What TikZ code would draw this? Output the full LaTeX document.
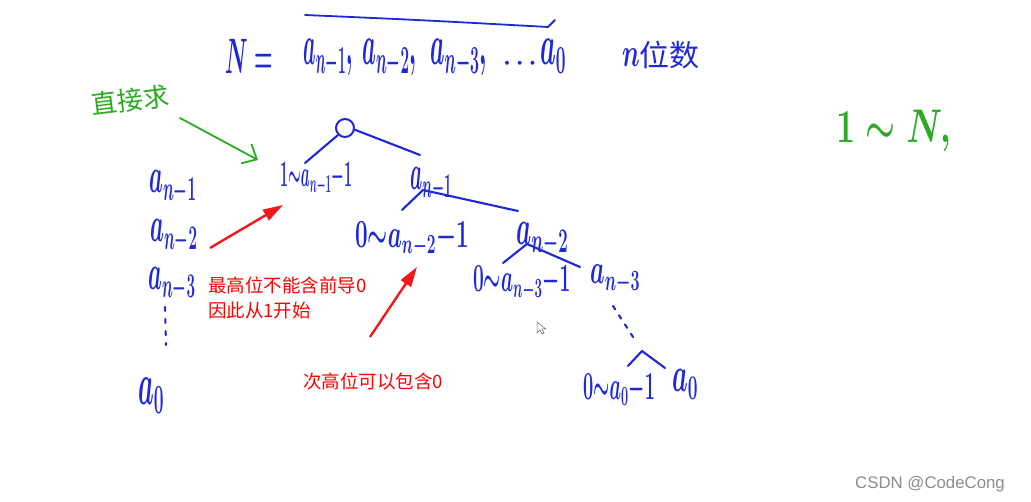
\documentclass[tikz,border=0pt]{standalone}
\usepackage{fontspec}
\usepackage{graphicx}
\newfontfamily\cjk{Noto Sans CJK SC}
\newfontfamily\wmfont{Liberation Sans}
\usetikzlibrary{arrows.meta}
\definecolor{ink}{RGB}{30,40,215}
\definecolor{grn}{RGB}{45,170,35}
\definecolor{redtxt}{RGB}{255,0,0}
\definecolor{redarr}{RGB}{240,25,25}
\newcommand\hwr[3]{\scalebox{#1}[#2]{$#3$}}
\begin{document}
\begin{tikzpicture}[x=1pt,y=-1pt,
  hw/.style={text=ink, inner sep=0pt, anchor=base west, font=\fontsize{24}{26}\selectfont\boldmath},
  gw/.style={text=grn, inner sep=0pt, font=\fontsize{24}{26}\selectfont\boldmath},
  stroke/.style={draw=ink, line width=2.1pt, line cap=round, line join=round},
  redlabel/.style={text=redtxt, font=\cjk\fontsize{18.5}{22}\selectfont, anchor=west, inner sep=0pt},
  redarrow/.style={draw=redarr, line width=2.4pt, -{Triangle[length=20pt,width=12pt]}},
  grnarrow/.style={draw=grn, line width=1.8pt, line cap=round, -{Straight Barb[length=12pt,width=22pt]}},
  wm/.style={text=black!45, font=\wmfont\fontsize{16.8}{18}\selectfont, anchor=base west, inner sep=0pt}
]
\useasboundingbox[fill=white] (0,0) rectangle (1031,502);

% top formula
\node[hw] (tN) at (225,74) {\hwr{0.85}{2}{N=}};
\node[hw] (t1) at (303,65) {\hwr{0.8}{2.3}{a_{n-1},}};
\node[hw] (t2) at (362,65) {\hwr{0.88}{2.3}{a_{n-2},}};
\node[hw] (t3) at (430,65) {\hwr{0.92}{2.3}{a_{n-3},}};
\node[hw] (tdots) at (503,70) {\hwr{1}{1}{\cdots}};
\node[hw] (t0) at (540,65) {\hwr{1.0}{2.3}{a_0}};
\node[hw] (tn) at (622,67) {\hwr{1}{1.6}{n}{\cjk\fontsize{30}{32}\selectfont 位数}};
\draw[stroke, line width=1.8pt] ([shift={(2pt,50pt)}]t1.base west) .. controls (420,20) .. (548,27) -- (555,20);

% green notes
\node[gw, font=\cjk\fontsize{26}{28}\selectfont, rotate=7] (g) at (130,100) {直接求};
\node[gw, anchor=base west] (gN) at (836,143) {\hwr{1.35}{1.9}{1\sim N,}};

% left column
\node[hw] (c1) at (149,193) {\hwr{0.88}{2}{a_{n-1}}};
\node[hw] (c2) at (150,242) {\hwr{0.88}{2}{a_{n-2}}};
\node[hw] (c3) at (148,290) {\hwr{0.88}{2}{a_{n-3}}};
\node[hw] (c0) at (138,405) {\hwr{1.0}{2.4}{a_0}};
\draw[stroke, dash pattern=on 4pt off 8pt] ([shift={(17pt,-17pt)}]c3.base west) -- ([shift={(28pt,60pt)}]c0.base west);

% tree
\node[circle, draw=ink, line width=2pt, minimum size=18pt, inner sep=0pt] (root) at (345,128) {};
\node[hw] (l1) at (280,187) {\hwr{0.57}{1.5}{1{\sim}a_{n-1}{-}1}};
\node[hw] (r1) at (410,190) {\hwr{0.78}{2}{a_{n-1}}};
\node[hw] (l2) at (355,248) {\hwr{0.9}{1.6}{0{\sim}a_{n-2}{-}1}};
\node[hw] (r2) at (516,245) {\hwr{0.97}{2}{a_{n-2}}};
\node[hw] (l3) at (473,292) {\hwr{0.77}{1.6}{0{\sim}a_{n-3}{-}1}};
\node[hw] (r3) at (590,284) {\hwr{0.93}{1.7}{a_{n-3}}};
\node[hw] (l4) at (583,400) {\hwr{0.73}{1.6}{0{\sim}a_0{-}1}};
\node[hw] (r4) at (672,392) {\hwr{1.0}{2}{a_0}};
\coordinate (v4) at (642,351);

\draw[stroke] (root.225) -- ([shift={(25pt,24pt)}]l1.base west);
\draw[stroke] (root.-10) -- ([shift={(10pt,35pt)}]r1.base west);
\draw[stroke] ([shift={(47pt,38pt)}]l2.base west) -- ([shift={(13pt,0pt)}]r1.base west) -- ([shift={(2pt,34pt)}]r2.base west);
\draw[stroke] ([shift={(30pt,29pt)}]l3.base west) -- ([shift={(11pt,1pt)}]r2.base west) -- ([shift={(-10pt,17pt)}]r3.base west);
\draw[stroke, dash pattern=on 4pt off 7pt] ([shift={(23pt,-22pt)}]r3.base west) -- ([shift={(-7pt,11pt)}]v4);
\draw[stroke] ([shift={(45pt,34pt)}]l4.base west) -- (v4) -- ([shift={(-7pt,24pt)}]r4.base west);

% red notes
\node[redlabel] (n1) at (208,285) {最高位不能含前导0};
\node[redlabel] (n2) at (208,310) {因此从1开始};
\node[redlabel] (n3) at (303,381) {次高位可以包含0};
\draw[redarrow] ([shift={(2pt,37pt)}]n1.west) -- ([shift={(3pt,-18pt)}]l1.base west);
\draw[redarrow] ([shift={(67pt,44pt)}]n3.west) -- ([shift={(62pt,-19pt)}]l2.base west);

% green arrow
\draw[grnarrow] ([shift={(50pt,-18pt)}]g.center) -- ([shift={(-22pt,27pt)}]l1.base west);

% cursor
\draw[black!60, line width=0.5pt, fill=white] (537,322) -- (537,333) -- (540,330) -- (542,334) -- (544,333) -- (542,329) -- (546,329) -- cycle;

% watermark
\node[wm] (wmk) at (855,488) {CSDN @CodeCong};
\end{tikzpicture}
\end{document}
